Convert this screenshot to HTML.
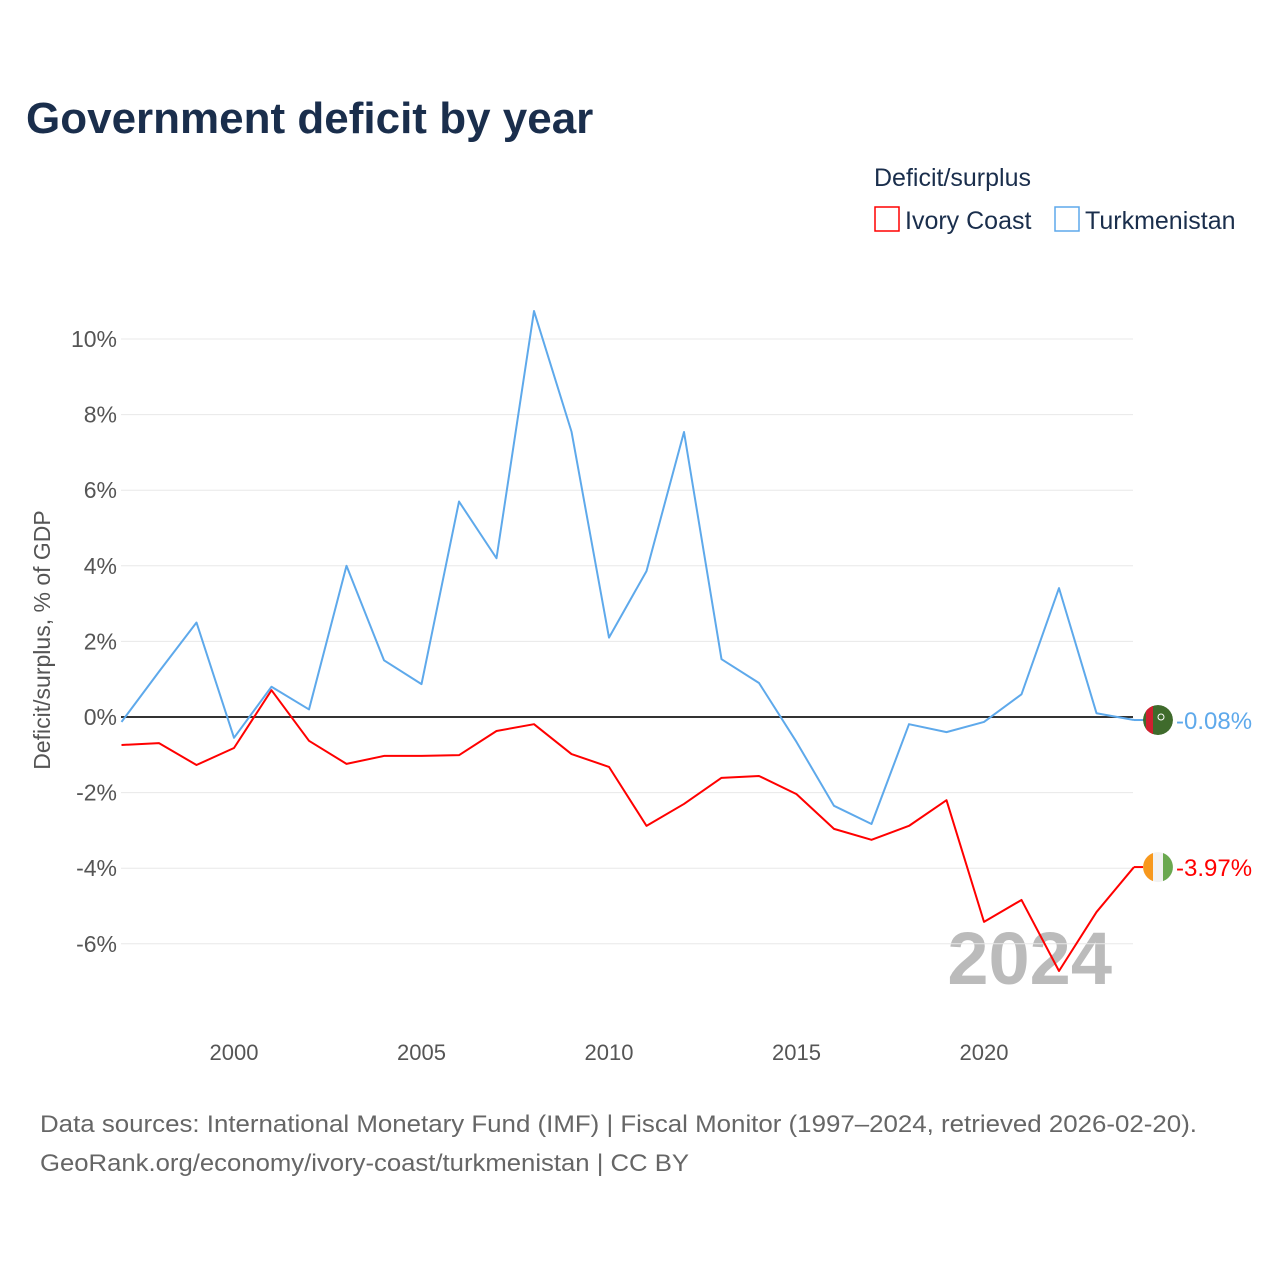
<!DOCTYPE html>
<html><head><meta charset="utf-8"><style>
body{margin:0;background:#fff;width:1280px;height:1280px;overflow:hidden;font-family:"Liberation Sans",sans-serif}
svg text{font-family:"Liberation Sans",sans-serif}
</style></head><body>
<svg id="c" width="1280" height="1280">
<text x="26" y="133" font-size="44" font-weight="bold" fill="#1a2e4c">Government deficit by year</text>
<text x="874" y="186" font-size="25" fill="#1a2e4c">Deficit/surplus</text>
<g><rect x="875" y="207" width="24" height="24" fill="none" stroke="#f00" stroke-width="1.5"/><text x="905" y="229" font-size="25" fill="#1a2e4c">Ivory Coast</text></g>
<g><rect x="1055" y="207" width="24" height="24" fill="none" stroke="#5ea9eb" stroke-width="1.5"/><text x="1085" y="229" font-size="25" fill="#1a2e4c">Turkmenistan</text></g>
<text transform="translate(50,640) rotate(-90)" text-anchor="middle" font-size="23" fill="#555">Deficit/surplus, % of GDP</text>
<text x="1112" y="984" text-anchor="end" font-size="74" font-weight="bold" fill="#bbb">2024</text>
<defs><clipPath id="cT"><circle cx="1158" cy="720" r="15"/></clipPath></defs>
<g id="grid"></g><g id="marks"></g>
<text x="40" y="1132" font-size="24" fill="#666" textLength="1157" lengthAdjust="spacingAndGlyphs">Data sources: International Monetary Fund (IMF) | Fiscal Monitor (1997–2024, retrieved 2026-02-20).</text>
<text x="40" y="1171" font-size="24" fill="#666" textLength="649" lengthAdjust="spacingAndGlyphs">GeoRank.org/economy/ivory-coast/turkmenistan | CC BY</text>
</svg>
<script>
const years=[1997,1998,1999,2000,2001,2002,2003,2004,2005,2006,2007,2008,2009,2010,2011,2012,2013,2014,2015,2016,2017,2018,2019,2020,2021,2022,2023,2024];
const turkmenistan=[-0.13,1.2,2.5,-0.55,0.8,0.2,4.0,1.5,0.87,5.7,4.2,10.74,7.55,2.1,3.86,7.54,1.53,0.9,-0.66,-2.35,-2.83,-0.19,-0.4,-0.13,0.6,3.41,0.1,-0.08];
const ivoryCoast=[-0.74,-0.69,-1.27,-0.82,0.71,-0.63,-1.24,-1.03,-1.03,-1.01,-0.37,-0.19,-0.98,-1.32,-2.88,-2.3,-1.61,-1.56,-2.04,-2.96,-3.25,-2.88,-2.2,-5.42,-4.84,-6.72,-5.16,-3.97];
const yTicks=[-6,-4,-2,0,2,4,6,8,10];
const xTicks=[2000,2005,2010,2015,2020];
const NS="http://www.w3.org/2000/svg";
const X=y=>121.5+(y-1997)*37.5;
const Y=v=>717-v*37.8;
const grid=document.getElementById('grid'),marks=document.getElementById('marks');
function mk(tag,attrs,parent){const e=document.createElementNS(NS,tag);for(const k in attrs)e.setAttribute(k,attrs[k]);parent.appendChild(e);return e;}
yTicks.forEach(t=>{
  if(t!==0){const l=mk('line',{x1:121,x2:1133,y1:Y(t),y2:Y(t),stroke:'#e8e8e8','stroke-width':1},grid);
  
  }
  const tx=mk('text',{x:117,y:Y(t)+8,'text-anchor':'end','font-size':23,fill:'#555'},grid);
  tx.textContent=t+'%';
  
  
});
xTicks.forEach(t=>{
  const tx=mk('text',{x:X(t),y:1060,'text-anchor':'middle','font-size':22,fill:'#555'},grid);
  tx.textContent=t;
  
  
});
const z=mk('line',{x1:121,x2:1133,y1:Y(0),y2:Y(0),stroke:'#333','stroke-width':2},grid);


function series(vals,color,name){
  const p=mk('polyline',{points:vals.map((v,i)=>X(years[i])+','+Y(v)).join(' '),fill:'none',stroke:color,'stroke-width':2,'stroke-linejoin':'round'},marks);
  
  
  const last=vals[vals.length-1];
  mk('line',{x1:X(2024),x2:1146,y1:Y(last),y2:Y(last),stroke:color,'stroke-width':2},marks);
  const t=mk('text',{x:1176,y:Y(last)+9,'font-size':24,fill:color},marks);
  t.textContent=last.toFixed(2)+'%';
  
  
  return Y(last);
}
const yT=series(turkmenistan,'#5ea9eb','turkmenistan');
const yI=series(ivoryCoast,'#f00','ivory-coast');
const cx=1158;
document.querySelector('#cT circle').setAttribute('cy',yT);
let g=mk('g',{'clip-path':'url(#cT)'},marks);


mk('circle',{cx:cx,cy:yT,r:15,fill:'#3f6b2c'},g);
mk('rect',{x:cx-12,y:yT-15,width:7,height:30,fill:'#d02030'},g);
mk('circle',{cx:cx+3,cy:yT-3,r:3,fill:'none',stroke:'#fff','stroke-width':1},g);
g=mk('g',{},marks);


mk('circle',{cx:cx,cy:yI,r:15,fill:'#f2f2f2'},g);
mk('path',{d:`M${cx-5},${yI-14.1} A15,15 0 0 0 ${cx-5},${yI+14.1} Z`,fill:'#f7981d'},g);
mk('path',{d:`M${cx+5},${yI-14.1} A15,15 0 0 1 ${cx+5},${yI+14.1} Z`,fill:'#6aa84f'},g);
</script>
</body></html>
